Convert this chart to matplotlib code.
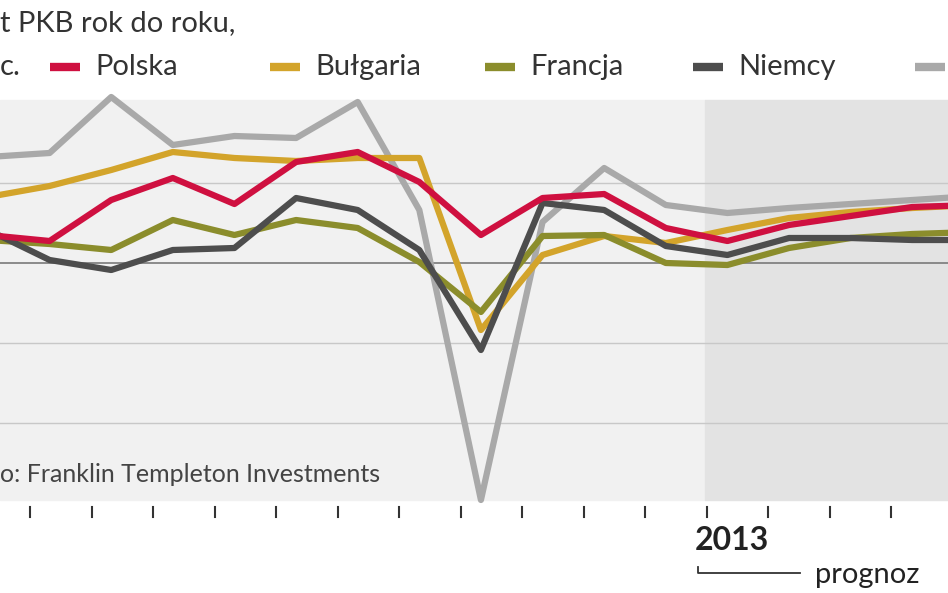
import numpy as np
import matplotlib.pyplot as plt
from matplotlib.patches import Rectangle

plt.rcParams['font.family'] = 'Lato'

# quarterly GDP growth y/y, %, last points are forecast
idx = np.arange(17)
inne = [2.65, 2.75, 4.15, 2.95, 3.175, 3.125, 4.025, 1.325, -5.925, 1.025, 2.375, 1.45, 1.25, 1.375, 1.475, 1.575, 1.675]
polska = [0.7, 0.55, 1.575, 2.125, 1.475, 2.525, 2.775, 2.025, 0.7, 1.625, 1.725, 0.875, 0.55, 0.95, 1.175, 1.4, 1.45]
bulgaria = [1.65, 1.925, 2.325, 2.775, 2.625, 2.55, 2.625, 2.625, -1.675, 0.2, 0.675, 0.5, 0.825, 1.125, 1.275, 1.375, 1.45]
francja = [0.575, 0.475, 0.325, 1.075, 0.7, 1.075, 0.875, 0.025, -1.225, 0.675, 0.7, 0.0, -0.05, 0.375, 0.625, 0.725, 0.775]
niemcy = [0.825, 0.075, -0.175, 0.325, 0.375, 1.625, 1.325, 0.325, -2.175, 1.5, 1.325, 0.425, 0.2, 0.625, 0.625, 0.575, 0.575]

fig = plt.figure(figsize=(9.48, 5.93), dpi=100)
ax = fig.add_axes([0, 0, 1, 1])
ax.set_xlim(0.195, 15.58)
ax.set_ylim(-8.25, 6.575)
ax.axis('off')

ax.add_patch(Rectangle((0.195, -5.925), 11.64 - 0.195, 10.0, color='#f1f1f1', zorder=0))
ax.add_patch(Rectangle((11.64, -5.925), 15.58 - 11.64, 10.0, color='#e3e3e3', zorder=0))
for g in [2, -2, -4]:
    ax.axhline(g, color='#c8c8c8', lw=1, zorder=1)
ax.axhline(0, color='#7a7a7a', lw=1.2, zorder=1)

ax.plot(idx, inne, color='#a9a9a9', lw=4.5, zorder=2)
ax.plot(idx, bulgaria, color='#d3a42b', lw=4.5, zorder=3)
ax.plot(idx, francja, color='#8b8d2c', lw=4.5, zorder=3)
ax.plot(idx, niemcy, color='#4d4d4d', lw=4.5, zorder=4)
ax.plot(idx, polska, color='#cf1040', lw=4.5, zorder=5)

# tick marks below the plot
for k in range(15):
    xt = (30 + 61.5 * k + 12) / 61.6
    ax.plot([xt, xt], [-6.1, -6.35], color='#333333', lw=1.5)

fs = 21
ax.text(0.195, 6.0, 't PKB rok do roku,', fontsize=fs, color='#333333', va='center')
ax.text(0.195, 4.9, 'c.', fontsize=fs, color='#333333', va='center')
leg = [('Polska', '#cf1040', 50), ('Bułgaria', '#d3a42b', 270),
       ('Francja', '#8b8d2c', 485), ('Niemcy', '#4d4d4d', 693), ('', '#a9a9a9', 915)]
for name, col, px in leg:
    x0 = (px + 12) / 61.6
    ax.plot([x0, x0 + 30 / 61.6], [4.9, 4.9], color=col, lw=6, solid_capstyle='butt')
    ax.text(x0 + 45 / 61.6, 4.9, name, fontsize=fs, color='#333333', va='center')
ax.text(0.195, -5.3, 'o: Franklin Templeton Investments', fontsize=18, color='#444444', va='center')
ax.text((695 + 12) / 61.6, -6.95, '2013', fontsize=23, color='#222222', va='center', fontweight='bold')
xa, xb = (698 + 12) / 61.6, (800 + 12) / 61.6
ax.plot([xa, xa, xb], [-7.6, -7.75, -7.75], color='#333333', lw=1.3)
ax.text((815 + 12) / 61.6, -7.8, 'prognoz', fontsize=21, color='#222222', va='center')

fig.savefig('out.png', dpi=100)
